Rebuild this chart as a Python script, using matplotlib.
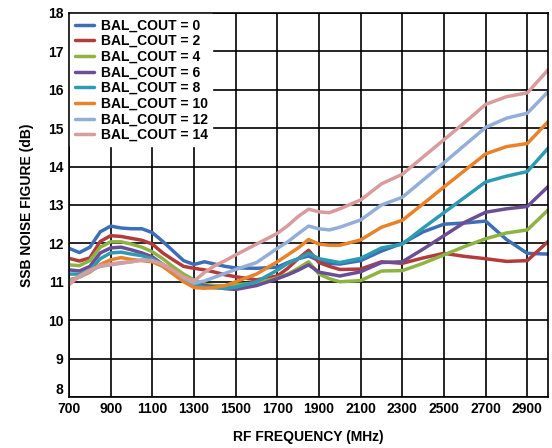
import matplotlib
matplotlib.use('Agg')
import matplotlib.pyplot as plt
from matplotlib.transforms import ScaledTranslation

plt.rcParams['font.family'] = ['Liberation Sans', 'DejaVu Sans']
plt.rcParams['font.weight'] = 'bold'

# RF frequency (MHz)
freq = [700, 750, 800, 850, 900, 950, 1000, 1050, 1100, 1150, 1200, 1250, 1300, 1350, 1400,
        1450, 1500, 1600, 1700, 1750, 1800, 1850, 1900, 1950, 2000, 2100, 2200, 2300, 2400,
        2500, 2600, 2700, 2800, 2900, 3000]

# SSB noise figure (dB) per BAL_COUT setting
nf_0 = [11.87, 11.76, 11.9, 12.3, 12.45, 12.4, 12.38, 12.38, 12.28, 12.05, 11.8, 11.55, 11.45, 11.52, 11.46,
        11.4, 11.36, 11.35, 11.38, 11.5, 11.6, 11.67, 11.55, 11.48, 11.46, 11.55, 11.8, 12.0, 12.3,
        12.5, 12.53, 12.58, 12.1, 11.74, 11.72]
nf_2 = [11.61, 11.54, 11.62, 12.05, 12.2, 12.18, 12.13, 12.08, 11.98, 11.75, 11.57, 11.4, 11.35, 11.31, 11.25,
        11.18, 11.13, 11.05, 11.15, 11.35, 11.6, 11.82, 11.5, 11.4, 11.32, 11.33, 11.52, 11.48, 11.62,
        11.74, 11.66, 11.6, 11.53, 11.55, 12.05]
nf_4 = [11.44, 11.42, 11.55, 11.9, 12.04, 12.04, 11.98, 11.9, 11.78, 11.6, 11.39, 11.2, 11.05, 10.93, 10.9,
        10.9, 10.92, 10.97, 11.1, 11.2, 11.35, 11.52, 11.2, 11.08, 11.0, 11.03, 11.28, 11.29, 11.48,
        11.7, 11.92, 12.12, 12.27, 12.35, 12.87]
nf_6 = [11.31, 11.28, 11.4, 11.75, 11.88, 11.9, 11.83, 11.75, 11.65, 11.45, 11.3, 11.1, 10.98, 10.9, 10.86,
        10.82, 10.8, 10.9, 11.08, 11.18, 11.3, 11.44, 11.25, 11.2, 11.15, 11.26, 11.5, 11.52, 11.85,
        12.2, 12.55, 12.81, 12.9, 12.96, 13.48]
nf_8 = [11.2, 11.2, 11.3, 11.6, 11.75, 11.77, 11.72, 11.68, 11.6, 11.45, 11.25, 11.05, 10.92, 10.86, 10.84,
        10.83, 10.86, 11.0, 11.3, 11.48, 11.6, 11.74, 11.6, 11.55, 11.5, 11.61, 11.88, 11.98, 12.4,
        12.8, 13.2, 13.6, 13.75, 13.87, 14.48]
nf_10 = [11.05, 11.12, 11.25, 11.45, 11.57, 11.63, 11.58, 11.55, 11.52, 11.4, 11.2, 11.0, 10.85, 10.83, 10.85,
         10.9, 11.0, 11.2, 11.52, 11.7, 11.88, 12.1, 11.98, 11.95, 11.95, 12.09, 12.42, 12.6, 13.03,
         13.47, 13.9, 14.33, 14.52, 14.6, 15.17]
nf_12 = [11.0, 11.12, 11.28, 11.4, 11.44, 11.48, 11.52, 11.57, 11.55, 11.45, 11.3, 11.1, 10.96, 11.02, 11.12,
         11.22, 11.32, 11.5, 11.87, 12.04, 12.25, 12.45, 12.38, 12.35, 12.42, 12.61, 13.0, 13.2, 13.65,
         14.1, 14.56, 15.02, 15.26, 15.39, 15.95]
nf_14 = [10.92, 11.15, 11.3, 11.42, 11.46, 11.5, 11.52, 11.56, 11.55, 11.45, 11.3, 11.12, 11.02, 11.24, 11.42,
         11.55, 11.7, 11.98, 12.26, 12.46, 12.7, 12.89, 12.82, 12.8, 12.9, 13.13, 13.55, 13.8, 14.25,
         14.7, 15.15, 15.62, 15.82, 15.92, 16.52]

labels = ['BAL_COUT = 0', 'BAL_COUT = 2', 'BAL_COUT = 4', 'BAL_COUT = 6',
          'BAL_COUT = 8', 'BAL_COUT = 10', 'BAL_COUT = 12', 'BAL_COUT = 14']
colors = ['#3d6fb6', '#b33b3b', '#8db443', '#6b4e96', '#2f9bb2', '#e8832b', '#93afd9', '#d99b9b']
series = [nf_0, nf_2, nf_4, nf_6, nf_8, nf_10, nf_12, nf_14]

fig = plt.figure(figsize=(5.52, 4.48), dpi=100)
ax = fig.add_axes([0.125, 0.114, 0.868, 0.857])

for ys, c, lab in zip(series, colors, labels):
    ax.plot(freq, ys, color=c, lw=2.5, label=lab,
            solid_capstyle='round', solid_joinstyle='round')

ax.set_xlim(700, 3000)
ax.set_ylim(8, 18)
ax.set_xticks(range(700, 3000, 200))
ax.set_yticks(range(8, 19))
ax.grid(True, color='black', lw=1.2)
ax.set_axisbelow(True)
ax.tick_params(length=0, labelsize=10, pad=4)
for s in ax.spines.values():
    s.set_linewidth(1.2)

# lift the bottom "8" so it clears the "700" below it
lab8 = ax.get_yticklabels()[0]
lab8.set_transform(lab8.get_transform() + ScaledTranslation(0, 6 / 72, fig.dpi_scale_trans))

ax.set_xlabel('RF FREQUENCY (MHz)', fontsize=10, fontweight='bold', labelpad=10)
ax.set_ylabel('SSB NOISE FIGURE (dB)', fontsize=10, fontweight='bold', labelpad=10)

leg = ax.legend(loc='upper left', fontsize=10, frameon=True, fancybox=False,
                edgecolor='white', facecolor='white', framealpha=1,
                handlelength=1.4, handletextpad=0.5, labelspacing=0.12,
                borderpad=0.3, borderaxespad=0.1)
for t in leg.get_texts():
    t.set_fontweight('bold')

fig.savefig('out.png', dpi=100)
